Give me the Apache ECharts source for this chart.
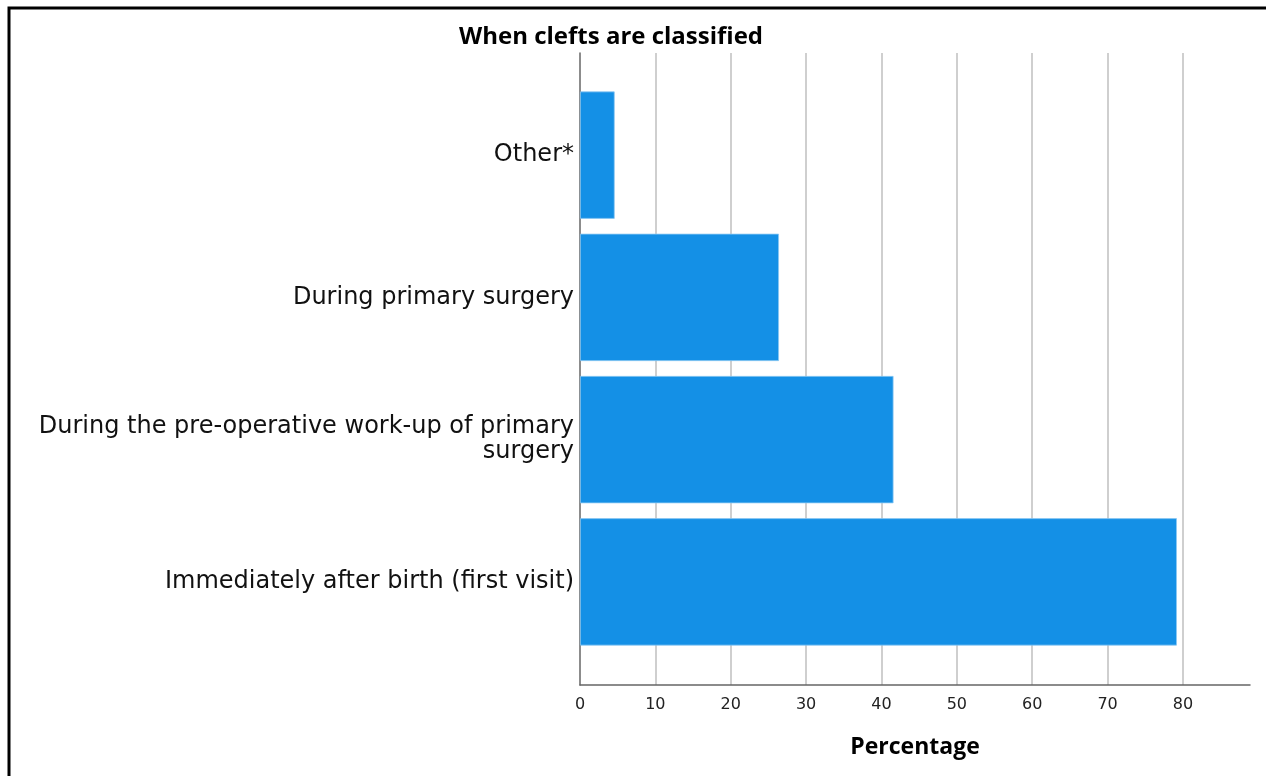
<!DOCTYPE html>
<html>
<head>
<meta charset="utf-8">
<script src="https://cdn.jsdelivr.net/npm/echarts@6/dist/echarts.min.js"></script>
<style>
  html, body { margin: 0; padding: 0; background: #fff; }
  #chart { width: 1266px; height: 776px; }
</style>
</head>
<body>
<div id="chart"></div>
<script>
const categories = [
  'Immediately after birth (first visit)',
  'During the pre-operative work-up of primary\nsurgery',
  'During primary surgery',
  'Other*'
];
const percentages = [79.2, 41.6, 26.4, 4.6];
const xTickMax = 88.9;
const titleText = 'When clefts are classified';
const xAxisTitle = 'Percentage';

const chart = echarts.init(document.getElementById('chart'), null, { renderer: 'canvas' });
chart.setOption({
  animation: false,
  backgroundColor: '#ffffff',
  title: {
    text: titleText,
    left: 454,
    top: 20,
    textStyle: { fontFamily: 'Open Sans', fontWeight: 'bold', fontSize: 24, color: '#000' }
  },
  graphic: [{
    type: 'polyline',
    shape: { points: [[9, 776], [9, 8], [1266, 8]] },
    style: { stroke: '#000', lineWidth: 3, fill: null },
    silent: true
  }],
  grid: [
    { left: 580, right: 16, top: 84, bottom: 123, containLabel: false },
    { left: 580, right: 16, top: 53, bottom: 91, containLabel: false }
  ],
  xAxis: [
    {
      gridIndex: 0, type: 'value', min: 0, max: xTickMax, show: false
    },
    {
      gridIndex: 1, type: 'value', min: 0, max: xTickMax, interval: 10,
      name: xAxisTitle, nameLocation: 'middle', nameGap: 51,
      nameTextStyle: { fontFamily: 'Open Sans', fontWeight: 'bold', fontSize: 23, color: '#000' },
      axisLine: { show: true, lineStyle: { color: '#666', width: 1.5 } },
      axisTick: { show: false },
      axisLabel: {
        show: true, margin: 12, fontFamily: 'DejaVu Sans', fontSize: 16, color: '#222',
        showMaxLabel: false,
        formatter: function (v) { return (v % 10 === 0) ? String(v) : ''; }
      },
      splitLine: { show: true, showMinLine: false, showMaxLine: false, lineStyle: { color: '#cfcfcf', width: 2 } }
    }
  ],
  yAxis: [
    {
      gridIndex: 0, type: 'category', data: categories,
      axisLine: { show: false }, axisTick: { show: false },
      axisLabel: {
        margin: 6, fontFamily: 'DejaVu Sans', fontSize: 24, color: '#111',
        lineHeight: 25, align: 'right', padding: [8, 0, 0, 0]
      },
      splitLine: { show: false }
    },
    {
      gridIndex: 1, type: 'value', min: 0, max: 1,
      axisLine: { show: true, lineStyle: { color: '#666', width: 1.5 } },
      axisTick: { show: false }, axisLabel: { show: false }, splitLine: { show: false }
    }
  ],
  series: [{
    type: 'bar',
    xAxisIndex: 0, yAxisIndex: 0,
    data: percentages,
    barCategoryGap: '10.5%',
    itemStyle: { color: '#1490e6', borderColor: '#8cc8f2', borderWidth: 0.8 },
    z: 3
  }]
});
</script>
</body>
</html>
